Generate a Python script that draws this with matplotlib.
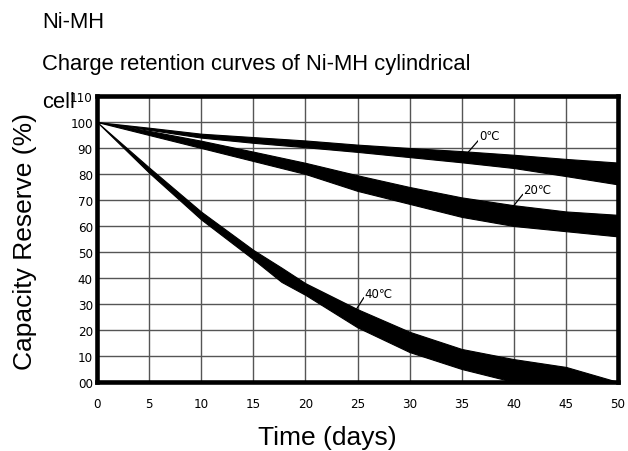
import matplotlib
matplotlib.use("Agg")
import matplotlib.pyplot as plt

# ---- data ----
days = [0, 5, 10, 15, 20, 25, 30, 35, 40, 45, 50]
c0_hi = [100, 97.8, 95.5, 94.2, 92.9, 91.3, 90.0, 88.8, 87.4, 85.8, 84.4]
c0_lo = [100, 97.0, 94.0, 92.0, 90.3, 88.5, 86.5, 84.5, 82.3, 79.2, 76.0]
c20_hi = [100, 96.6, 92.8, 88.6, 84.3, 79.5, 75.0, 71.0, 68.0, 65.6, 64.3]
c20_lo = [100, 95.0, 90.0, 85.0, 80.0, 73.5, 68.5, 63.5, 60.0, 58.0, 56.0]
c40_days = [0, 5, 10, 15, 17.7, 20, 25, 30, 35, 40, 45, 50]
c40_hi = [100, 82.5, 65.5, 50.8, 44.0, 38.0, 28.0, 19.3, 12.7, 8.8, 5.8, 0.0]
c40_lo = [100, 80.5, 62.5, 47.2, 38.5, 33.5, 21.0, 11.5, 5.0, 0.0, 0.0, 0.0]

x_ticks = [0, 5, 10, 15, 20, 25, 30, 35, 40, 45, 50]
x_ticklabels = ["0", "5", "10", "15", "20", "25", "30", "35", "40", "45", "50"]
y_ticks = [0, 10, 20, 30, 40, 50, 60, 70, 80, 90, 100, 110]
y_ticklabels = ["00", "10", "20", "30", "40", "50", "60", "70", "80", "90", "100", "110"]

band_labels = ["0\u2103", "20\u2103", "40\u2103"]

title1 = "Ni-MH"
title2 = "Charge retention curves of Ni-MH cylindrical"
title3 = "cell"
xlabel = "Time (days)"
ylabel = "Capacity Reserve (%)"

# ---- figure ----
W, H = 628, 452
fig = plt.figure(figsize=(W / 100, H / 100), dpi=100)
L, R, T, B = 97, 618, 97, 383
ax = fig.add_axes([L / W, 1 - B / H, (R - L) / W, (B - T) / H])
ax.set_xlim(0, 50)
ax.set_ylim(0, 110)

for xs, hi, lo in [(days, c0_hi, c0_lo), (days, c20_hi, c20_lo), (c40_days, c40_hi, c40_lo)]:
    ax.fill_between(xs, lo, hi, color="black", lw=0.8, edgecolor="black", zorder=3)

ax.set_xticks(x_ticks)
ax.set_xticklabels(x_ticklabels)
ax.set_yticks(y_ticks)
ax.set_yticklabels(y_ticklabels)
ax.grid(True, color="#555555", lw=1.0, zorder=1)
ax.set_axisbelow(True)
ax.tick_params(length=0, labelsize=9.5, colors="black")
ax.tick_params(axis="x", pad=11)
ax.tick_params(axis="y", pad=3)
for lab in ax.get_xticklabels() + ax.get_yticklabels():
    lab.set_fontfamily("DejaVu Sans")
    lab.set_fontstretch("condensed")
for sp in ax.spines.values():
    sp.set_linewidth(3.3)
    sp.set_zorder(5)

# band labels with leader lines
annots = [
    (band_labels[0], (35.6, 88.3), (36.6, 92.9), (36.65, 94.9)),
    (band_labels[1], (39.95, 67.6), (40.85, 72.1), (40.9, 74.0)),
    (band_labels[2], (24.8, 27.4), (25.6, 32.4), (25.7, 33.9)),
]
for txt, p0, p1, pt in annots:
    ax.plot([p0[0], p1[0]], [p0[1], p1[1]], color="black", lw=0.9, zorder=4)
    ax.text(pt[0], pt[1], txt, fontsize=8.5, family=["DejaVu Sans", "Noto Sans CJK SC"],
            ha="left", va="center", zorder=6,
            bbox=dict(facecolor="white", edgecolor="none", pad=0.3))

sans = ["Liberation Sans", "DejaVu Sans"]
fig.text(42 / W, 1 - 28 / H, title1, fontsize=15.8, family=sans, va="baseline", ha="left")
fig.text(42 / W, 1 - 70 / H, title2, fontsize=15.8, family=sans, va="baseline", ha="left")
fig.text(42 / W, 1 - 108 / H, title3, fontsize=15.8, family=sans, va="baseline", ha="left", zorder=10)
fig.text(327.5 / W, 1 - 445 / H, xlabel, fontsize=19, family=sans, va="baseline", ha="center")
fig.text(25 / W, 1 - 241 / H, ylabel, fontsize=19, family=sans, va="center", ha="center", rotation=90)

fig.savefig("out.png", dpi=100)
